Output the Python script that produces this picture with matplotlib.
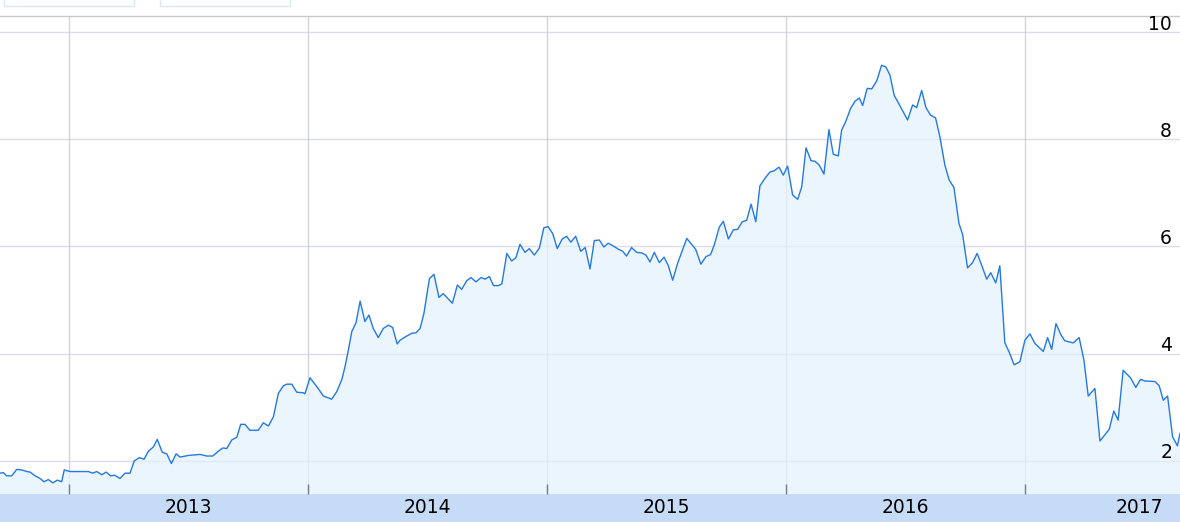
import matplotlib.pyplot as plt
import matplotlib.transforms as mtransforms
from matplotlib.patches import Rectangle

# weekly closes, x in decimal years
week_pos = [2012.711, 2012.725, 2012.739, 2012.760, 2012.781, 2012.802, 2012.823, 2012.837, 2012.858, 2012.879,
            2012.895, 2012.913, 2012.932, 2012.951, 2012.969, 2012.980, 2013.004, 2013.032, 2013.081, 2013.099,
            2013.116, 2013.137, 2013.155, 2013.174, 2013.192, 2013.213, 2013.234, 2013.255, 2013.273, 2013.294,
            2013.314, 2013.332, 2013.353, 2013.369, 2013.390, 2013.409, 2013.428, 2013.448, 2013.464, 2013.499,
            2013.548, 2013.576, 2013.601, 2013.625, 2013.643, 2013.660, 2013.681, 2013.702, 2013.718, 2013.736,
            2013.757, 2013.792, 2013.813, 2013.834, 2013.855, 2013.876, 2013.897, 2013.911, 2013.932, 2013.953,
            2013.980, 2013.987, 2014.008, 2014.036, 2014.064, 2014.099, 2014.120, 2014.141, 2014.155, 2014.169,
            2014.183, 2014.201, 2014.218, 2014.238, 2014.255, 2014.273, 2014.294, 2014.315, 2014.336, 2014.354,
            2014.373, 2014.385, 2014.406, 2014.434, 2014.452, 2014.469, 2014.485, 2014.508, 2014.527, 2014.548,
            2014.566, 2014.604, 2014.625, 2014.643, 2014.664, 2014.682, 2014.703, 2014.724, 2014.741, 2014.759,
            2014.776, 2014.797, 2014.811, 2014.832, 2014.852, 2014.870, 2014.887, 2014.908, 2014.926, 2014.947,
            2014.968, 2014.987, 2015.005, 2015.024, 2015.043, 2015.064, 2015.082, 2015.100, 2015.120, 2015.141,
            2015.160, 2015.180, 2015.198, 2015.219, 2015.238, 2015.256, 2015.277, 2015.298, 2015.317, 2015.333,
            2015.354, 2015.375, 2015.396, 2015.414, 2015.431, 2015.449, 2015.470, 2015.490, 2015.508, 2015.526,
            2015.547, 2015.585, 2015.622, 2015.644, 2015.665, 2015.685, 2015.700, 2015.721, 2015.738, 2015.759,
            2015.780, 2015.798, 2015.817, 2015.836, 2015.854, 2015.874, 2015.891, 2015.912, 2015.933, 2015.950,
            2015.971, 2015.989, 2016.007, 2016.028, 2016.049, 2016.066, 2016.084, 2016.105, 2016.121, 2016.139,
            2016.159, 2016.180, 2016.198, 2016.219, 2016.233, 2016.250, 2016.271, 2016.289, 2016.307, 2016.321,
            2016.340, 2016.359, 2016.380, 2016.400, 2016.418, 2016.435, 2016.453, 2016.474, 2016.509, 2016.530,
            2016.547, 2016.568, 2016.586, 2016.605, 2016.626, 2016.644, 2016.665, 2016.683, 2016.703, 2016.724,
            2016.739, 2016.760, 2016.781, 2016.800, 2016.819, 2016.840, 2016.857, 2016.878, 2016.895, 2016.916,
            2016.934, 2016.955, 2016.979, 2017.000, 2017.021, 2017.042, 2017.077, 2017.095, 2017.112, 2017.130,
            2017.151, 2017.167, 2017.202, 2017.227, 2017.247, 2017.265, 2017.293, 2017.314, 2017.353, 2017.372,
            2017.390, 2017.411, 2017.442, 2017.464, 2017.484, 2017.502, 2017.544, 2017.562, 2017.579, 2017.597,
            2017.618, 2017.638, 2017.649]
price = [1.77, 1.78, 1.72, 1.72, 1.84, 1.83, 1.80, 1.79, 1.72, 1.67,
         1.61, 1.65, 1.59, 1.64, 1.61, 1.83, 1.80, 1.80, 1.80, 1.77,
         1.80, 1.74, 1.79, 1.72, 1.73, 1.67, 1.77, 1.77, 2.00, 2.06,
         2.03, 2.18, 2.26, 2.40, 2.16, 2.13, 1.95, 2.13, 2.07, 2.10,
         2.12, 2.09, 2.09, 2.18, 2.24, 2.23, 2.39, 2.44, 2.68, 2.68,
         2.57, 2.57, 2.71, 2.65, 2.82, 3.26, 3.40, 3.43, 3.43, 3.28,
         3.27, 3.25, 3.55, 3.39, 3.21, 3.15, 3.29, 3.51, 3.76, 4.07,
         4.41, 4.58, 4.98, 4.60, 4.72, 4.47, 4.30, 4.47, 4.53, 4.49,
         4.18, 4.25, 4.31, 4.38, 4.39, 4.47, 4.75, 5.40, 5.48, 5.05,
         5.12, 4.94, 5.28, 5.20, 5.36, 5.42, 5.34, 5.42, 5.39, 5.44,
         5.27, 5.27, 5.30, 5.87, 5.73, 5.79, 6.04, 5.89, 5.96, 5.84,
         5.97, 6.35, 6.37, 6.24, 5.96, 6.14, 6.19, 6.08, 6.19, 5.91,
         5.98, 5.58, 6.11, 6.12, 5.99, 6.06, 6.01, 5.95, 5.91, 5.82,
         5.98, 5.89, 5.88, 5.84, 5.71, 5.89, 5.70, 5.80, 5.64, 5.37,
         5.69, 6.15, 5.95, 5.67, 5.81, 5.85, 6.03, 6.36, 6.47, 6.14,
         6.31, 6.32, 6.46, 6.49, 6.79, 6.46, 7.13, 7.27, 7.39, 7.41,
         7.48, 7.33, 7.50, 6.96, 6.88, 7.11, 7.84, 7.60, 7.59, 7.52,
         7.35, 8.18, 7.72, 7.69, 8.17, 8.33, 8.58, 8.71, 8.77, 8.63,
         8.95, 8.94, 9.09, 9.38, 9.35, 9.20, 8.82, 8.65, 8.36, 8.64,
         8.59, 8.91, 8.59, 8.45, 8.40, 8.05, 7.52, 7.24, 7.10, 6.43,
         6.23, 5.60, 5.70, 5.87, 5.65, 5.39, 5.51, 5.32, 5.64, 4.20,
         4.03, 3.79, 3.85, 4.25, 4.37, 4.19, 4.04, 4.30, 4.08, 4.56,
         4.35, 4.24, 4.20, 4.30, 3.88, 3.21, 3.35, 2.37, 2.59, 2.93,
         2.76, 3.69, 3.55, 3.37, 3.52, 3.49, 3.48, 3.40, 3.13, 3.21,
         2.45, 2.28, 2.51]

year_ticks = [2013, 2014, 2015, 2016, 2017]
year_labels = ['2013', '2014', '2015', '2016', '2017']
label_pos = [2013.5, 2014.5, 2015.5, 2016.5, 2017.48]
y_ticks = [2, 4, 6, 8, 10]

W, H = 1180, 522
fig = plt.figure(figsize=(W / 100, H / 100), dpi=100)
ax = fig.add_axes([0, 28 / H, 1, 478 / H])
ax.set_xlim(2012.711, 2017.649)
ax.set_ylim(1.381, 10.30)
ax.set_axisbelow(False)

# bottom band behind the axes
fig.patches.append(Rectangle((0, 0), 1, 28 / H, transform=fig.transFigure,
                             facecolor='#c6dbf6', edgecolor='none', zorder=-1))

# cut-off legend boxes at the top
for x0, x1 in [(4, 134), (160, 290)]:
    fig.patches.append(Rectangle((x0 / W, (H - 6) / H), (x1 - x0) / W, 20 / H,
                                 transform=fig.transFigure, facecolor='white',
                                 edgecolor='#dbe6f7', lw=1, zorder=3))

for y in y_ticks:
    ax.axhline(y, color='#dadaf0', lw=1.0, zorder=1)
for x in year_ticks:
    ax.axvline(x, color='#d4d4dc', lw=1.0, zorder=1)

ax.fill_between(week_pos, price, 1.381, color='#e3f2fd', alpha=0.7, lw=0, zorder=2)
ax.plot(week_pos, price, color='#2479e2', lw=1.0, zorder=3)

ax.set_xticks(year_ticks)
ax.set_yticks([])
ax.tick_params(axis='x', direction='in', length=7.2, width=1, color='#7a7a80',
               labelbottom=False)

for s in ['left', 'right', 'bottom']:
    ax.spines[s].set_visible(False)
ax.spines['top'].set_color('#c8c8c8')
ax.spines['top'].set_linewidth(1.0)

ytrans = mtransforms.offset_copy(ax.get_yaxis_transform(), fig=fig, y=2.5, units='dots')
for y in y_ticks:
    ax.text(1172 / W, y, str(y), transform=ytrans, ha='right', va='baseline',
            fontsize=13.5, color='black', zorder=4)

xtrans = mtransforms.offset_copy(ax.get_xaxis_transform(), fig=fig, y=-13.5, units='dots')
for pos, lab in zip(label_pos, year_labels):
    ax.text(pos, 0, lab, transform=xtrans, ha='center', va='center',
            fontsize=13.5, color='black', clip_on=False, zorder=5)

fig.savefig('out.png', dpi=100)
